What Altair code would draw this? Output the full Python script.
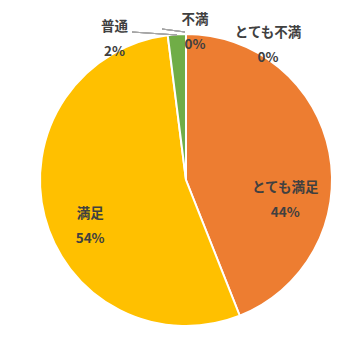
import altair as alt
import pandas as pd

categories = ["とても満足", "満足", "普通", "不満", "とても不満"]
values = [44, 54, 2, 0, 0]
pct_labels = ["44%", "54%", "2%", "0%", "0%"]
colors = ["#ED7D31", "#FFC000", "#70AD47", "#5B9BD5", "#A5A5A5"]

df = pd.DataFrame({"cat": categories, "val": values, "pct": pct_labels,
                   "ord": list(range(len(categories)))})

CX, CY, R = 178, 172, 146
FONT = "Noto Sans CJK JP"

arc = alt.Chart(df).mark_arc(outerRadius=R, stroke="white", strokeWidth=2).encode(
    theta=alt.Theta("val:Q", stack=True),
    order=alt.Order("ord:Q"),
    color=alt.Color("cat:N", scale=alt.Scale(domain=categories, range=colors), legend=None),
    x=alt.value(CX), y=alt.value(CY),
)


def label(cat, radius, dx, dy):
    return alt.Chart(df).transform_window(
        cum="sum(val)", sort=[alt.SortField("ord")], frame=[None, 0]
    ).transform_calculate(
        mid="datum.cum - datum.val / 2",
        txt="datum.cat + '\\n' + datum.pct",
    ).transform_filter(alt.datum.cat == cat).mark_text(
        radius=radius, dx=dx, dy=dy, font=FONT, fontSize=13.5, fontWeight="bold",
        color="#404040", lineBreak="\n", lineHeight=25, align="center", baseline="middle",
    ).encode(
        theta=alt.Theta("mid:Q", scale=alt.Scale(domain=[0, 100])),
        text="txt:N",
        x=alt.value(CX), y=alt.value(CY),
    )


leader1 = alt.Chart(df).mark_rule(color="#A6A6A6", strokeWidth=1).encode(
    x=alt.value(124), y=alt.value(24), x2=alt.value(169), y2=alt.value(27))
leader2 = alt.Chart(df).mark_rule(color="#A6A6A6", strokeWidth=1).encode(
    x=alt.value(154), y=alt.value(21), x2=alt.value(177), y2=alt.value(24))

chart = alt.layer(
    arc,
    leader1, leader2,
    label("とても満足", 100, 1, 27),
    label("満足", 100, 1, 9),
    label("普通", 150, -62, -3),
    label("不満", 148, 9, -12),
    label("とても不満", 135, 82, -12),
).properties(width=344, height=344, autosize="none", padding=0
).configure_view(stroke=None)

chart.save("out.html", embed_options={"renderer": "svg", "actions": False})
